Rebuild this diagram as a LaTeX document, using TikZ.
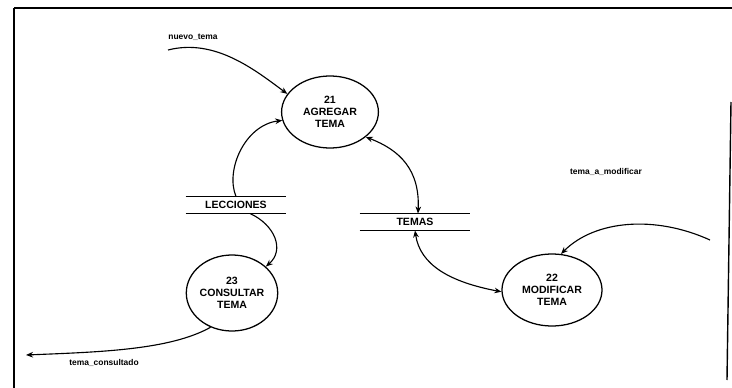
\documentclass[tikz,border=0pt]{standalone}
\usepackage{fontspec}
\setmainfont{Liberation Sans}
\usetikzlibrary{arrows.meta,shapes,calc,positioning}

\begin{document}
\begin{tikzpicture}[x=0.025cm,y=-0.025cm]
  \tikzset{
    proc/.style={ellipse, draw, line width=0.9pt, inner sep=0pt, align=center,
      font=\fontsize{7.5}{8.6}\selectfont\bfseries},
    store/.style={inner sep=0pt, minimum height=0.41cm, font=\fontsize{7.5}{9}\selectfont\bfseries},
    storeline/.style={line width=1pt},
    flow/.style={line width=0.8pt, -{Stealth[length=5pt,width=4pt]}},
    dflow/.style={line width=0.8pt, {Stealth[length=5pt,width=4pt]}-{Stealth[length=5pt,width=4pt]}},
    lbl/.style={font=\fontsize{6}{7}\selectfont\bfseries}
  }
  % Fixed bounding box
  \path[use as bounding box] (0,0) rectangle (732,388);

  % Frame (cut by the page)
  \draw[line width=1.1pt] (14,8) -- (732,8);
  \draw[line width=1.1pt] (14,8) -- (14,388);
  \draw[line width=1pt] (731,102) -- (727,380);

  % Processes
  \node[proc, minimum width=2.42cm, minimum height=1.8cm] (p21) at (330,112) {21\\AGREGAR\\TEMA};
  \node[proc, minimum width=2.5cm, minimum height=1.8cm] (p22) at (552,290) {22\\MODIFICAR\\TEMA};
  \node[proc, minimum width=2.05cm, minimum height=1.9cm] (p23) at (232,293) {23\\CONSULTAR\\TEMA};

  % Data stores
  \node[store, minimum width=2.5cm] (lec) at (236,205) {LECCIONES};
  \draw[storeline] (lec.north west) -- (lec.north east);
  \draw[storeline] (lec.south west) -- (lec.south east);
  \node[store, minimum width=2.75cm] (tem) at (415,222) {TEMAS};
  \draw[storeline] (tem.north west) -- (tem.north east);
  \draw[storeline] (tem.south west) -- (tem.south east);

  % Outside ends
  \coordinate (nt) at (168,50);
  \coordinate (tm) at (710,240);
  \coordinate (tc) at (26,355);

  % Flows
  \draw[flow] (nt) .. controls (215,38) and (255,70) .. (p21.157);
  \draw[flow] (lec.north) .. controls (225,170) and (245,125) .. (p21.190);
  \draw[flow] ($(lec.south)+(14,0)$) .. controls (275,225) and (285,250) .. (p23.38);
  \draw[dflow] (p21.325) .. controls (400,150) and (420,170) .. ($(tem.north)+(3,0)$);
  \draw[dflow] (tem.south) .. controls (420,265) and (450,282) .. (p22.182);
  \draw[flow] (tm) .. controls (655,215) and (595,220) .. (p22.76);
  \draw[flow] (p23.238) .. controls (170,350) and (100,352) .. (tc);

  % Labels
  \node[lbl] (lnt) at (193,37) {nuevo\_tema};
  \node[lbl] (ltm) at (606,172) {tema\_a\_modificar};
  \node[lbl] (ltc) at (104,363) {tema\_consultado};
\end{tikzpicture}
\end{document}
